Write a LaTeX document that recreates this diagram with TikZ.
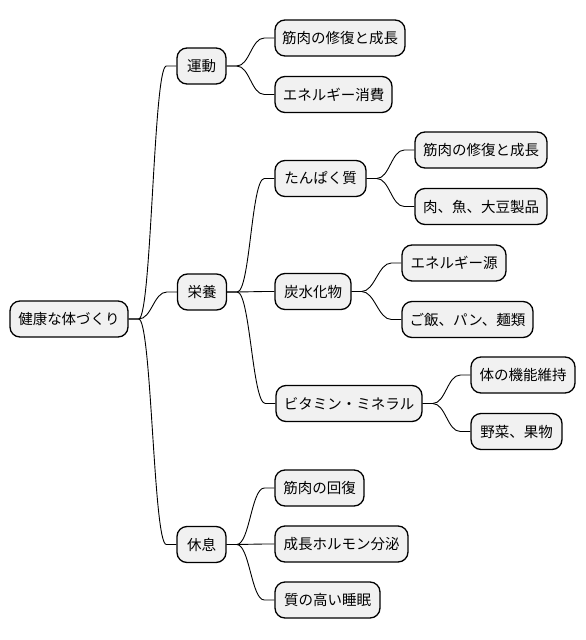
\documentclass[tikz,border=0pt]{standalone}
\usepackage{fontspec}
\setmainfont{Noto Sans CJK JP}
\usetikzlibrary{calc}
\definecolor{boxfill}{HTML}{F1F1F1}
\tikzset{
  box/.style={draw=black, line width=1.3pt, fill=boxfill, rounded corners=10pt,
    minimum height=36pt, inner sep=0pt, align=center, font=\fontsize{14.5}{17}\selectfont},
  link/.style={draw=black, line width=0.9pt,
    to path={-- ++(10,0) .. controls +(13,0) and +(-13,0) .. ($(\tikztotarget)+(-10pt,0)$) -- (\tikztotarget)}}
}
\begin{document}
\begin{tikzpicture}[x=1pt,y=-1pt]
\useasboundingbox (0,0) rectangle (586,640);
\node[box, minimum width=118pt] (root) at (69,319) {健康な体づくり};
\node[box, minimum width=49pt] (undo) at (201.5,66) {運動};
\node[box, minimum width=130pt] (u1) at (340,38) {筋肉の修復と成長};
\node[box, minimum width=117pt] (u2) at (333.5,94.5) {エネルギー消費};
\node[box, minimum width=49pt] (eiyo) at (202,292) {栄養};
\node[box, minimum width=91pt] (tan) at (320.5,178.5) {たんぱく質};
\node[box, minimum width=132pt] (t1) at (481,150) {筋肉の修復と成長};
\node[box, minimum width=132pt] (t2) at (481,206.5) {肉、魚、大豆製品};
\node[box, minimum width=76pt] (tanka) at (313,291.5) {炭水化物};
\node[box, minimum width=104pt] (c1) at (454,263) {エネルギー源};
\node[box, minimum width=131pt] (c2) at (467.5,319.5) {ご飯、パン、麺類};
\node[box, minimum width=146pt] (vit) at (349,403.5) {ビタミン・ミネラル};
\node[box, minimum width=104pt] (v1) at (523,375) {体の機能維持};
\node[box, minimum width=91pt] (v2) at (516.5,431.5) {野菜、果物};
\node[box, minimum width=49pt] (kyu) at (201.5,544.5) {休息};
\node[box, minimum width=89pt] (k1) at (319.5,488) {筋肉の回復};
\node[box, minimum width=133pt] (k2) at (341.5,544) {成長ホルモン分泌};
\node[box, minimum width=105pt] (k3) at (327.5,600) {質の高い睡眠};
\path (root.east) edge[link] (undo.west)
      (root.east) edge[link] (eiyo.west)
      (root.east) edge[link] (kyu.west)
      (undo.east) edge[link] (u1.west)
      (undo.east) edge[link] (u2.west)
      (eiyo.east) edge[link] (tan.west)
      (eiyo.east) edge[link] (tanka.west)
      (eiyo.east) edge[link] (vit.west)
      (tan.east) edge[link] (t1.west)
      (tan.east) edge[link] (t2.west)
      (tanka.east) edge[link] (c1.west)
      (tanka.east) edge[link] (c2.west)
      (vit.east) edge[link] (v1.west)
      (vit.east) edge[link] (v2.west)
      (kyu.east) edge[link] (k1.west)
      (kyu.east) edge[link] (k2.west)
      (kyu.east) edge[link] (k3.west);
\end{tikzpicture}
\end{document}
